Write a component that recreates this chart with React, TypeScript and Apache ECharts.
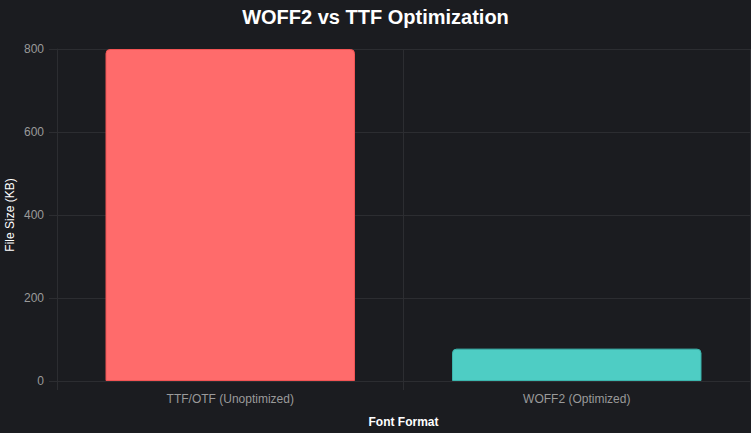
import React, { useEffect, useRef } from "react";
import * as echarts from "echarts";

const categories = ["TTF/OTF (Unoptimized)", "WOFF2 (Optimized)"];
const fileSizes = [800, 78];
const barColors = ["#ff6b6b", "#4ecdc4"];
const barBorders = ["#f25454", "#3bb5ad"];

export default function App() {
  const ref = useRef<HTMLDivElement>(null);
  useEffect(() => {
    if (!ref.current) return;
    const chart = echarts.init(ref.current, undefined, { renderer: "svg" });
    const font = "'Liberation Sans', Arial, Helvetica, sans-serif";
    chart.setOption({
      animation: false,
      backgroundColor: "#1b1c20",
      textStyle: { fontFamily: font },
      title: {
        text: "WOFF2 vs TTF Optimization",
        left: "center",
        top: 2,
        textStyle: { color: "#ffffff", fontSize: 20, fontWeight: "bold", fontFamily: font },
      },
      grid: { left: 57, right: 1, top: 49, bottom: 52, containLabel: false, outerBoundsMode: "none" },
      xAxis: {
        type: "category",
        data: categories,
        name: "Font Format",
        nameLocation: "middle",
        nameGap: 35,
        nameMoveOverlap: false,
        nameTextStyle: { color: "#ffffff", fontSize: 12, fontWeight: "bold", fontFamily: font },
        axisLine: { show: true, lineStyle: { color: "#2c2d31" } },
        axisTick: { show: true, length: 9, lineStyle: { color: "#2c2d31" } },
        axisLabel: { color: "#9a9a9a", fontSize: 12, margin: 12, fontFamily: font },
        splitLine: { show: true, lineStyle: { color: "#2c2d31" } },
      },
      yAxis: {
        type: "value",
        min: 0,
        max: 800,
        interval: 200,
        name: "File Size (KB)",
        nameLocation: "middle",
        nameGap: 41,
        nameMoveOverlap: false,
        nameTextStyle: { color: "#ffffff", fontSize: 12, fontFamily: font },
        axisLine: { show: true, lineStyle: { color: "#2c2d31" } },
        axisTick: { show: true, length: 8, lineStyle: { color: "#2c2d31" } },
        axisLabel: { color: "#9a9a9a", fontSize: 12, margin: 13, fontFamily: font },
        splitLine: { show: true, lineStyle: { color: "#2c2d31" } },
      },
      series: [
        {
          type: "bar",
          barCategoryGap: "28%",
          data: fileSizes.map((v, i) => ({
            value: v,
            itemStyle: {
              color: barColors[i],
              borderColor: barBorders[i],
              borderWidth: 1,
              borderRadius: [4, 4, 0, 0],
            },
          })),
        },
      ],
    });
    return () => chart.dispose();
  }, []);
  return <div ref={ref} style={{ width: 751, height: 433, position: "absolute", left: 0, top: 0 }} />;
}
